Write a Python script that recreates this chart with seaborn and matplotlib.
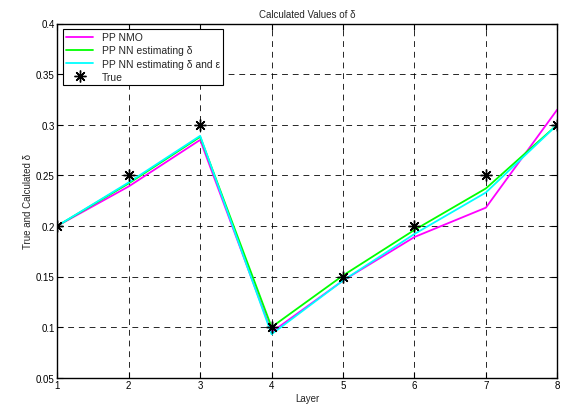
import matplotlib
matplotlib.use("Agg")
import matplotlib.pyplot as plt
import seaborn as sns
import pandas as pd

layers = [1, 2, 3, 4, 5, 6, 7, 8]
pp_nmo = [0.200, 0.239, 0.285, 0.095, 0.146, 0.189, 0.218, 0.315]
nn_delta = [0.200, 0.242, 0.288, 0.100, 0.151, 0.196, 0.237, 0.300]
nn_delta_eps = [0.200, 0.243, 0.289, 0.093, 0.146, 0.192, 0.233, 0.300]
true_vals = [0.20, 0.25, 0.30, 0.10, 0.15, 0.20, 0.25, 0.30]

labels = ["PP NMO", "PP NN estimating δ", "PP NN estimating δ and ε", "True"]
colors = ["#ff00ff", "#00ff00", "#00ffff"]

sns.set_theme(style="white")
plt.rcParams["font.family"] = ["Liberation Sans", "DejaVu Sans"]

fig = plt.figure(figsize=(5.65, 4.06), dpi=100)
ax = fig.add_axes([57.3 / 565, 1 - 378.7 / 406, (557.3 - 57.3) / 565, (378.7 - 24.5) / 406])

for vals, lab, col in zip([pp_nmo, nn_delta, nn_delta_eps], labels[:3], colors):
    df = pd.DataFrame({"Layer": layers, "val": vals})
    sns.lineplot(data=df, x="Layer", y="val", ax=ax, color=col, lw=1.3, label=lab)

df_true = pd.DataFrame({"Layer": layers, "val": true_vals})
ax.plot(df_true["Layer"], df_true["val"], linestyle="none", marker=(8, 2, 0),
        markersize=8.5, markeredgewidth=1.0, color="black", label=labels[3], zorder=5)

ax.set_xlim(1, 8)
ax.set_ylim(0.05, 0.4)
ax.set_xticks(layers)
ax.set_xticklabels([str(v) for v in layers])
yt = [0.05, 0.1, 0.15, 0.2, 0.25, 0.3, 0.35, 0.4]
ax.set_yticks(yt)
ax.set_yticklabels(["0.05", "0.1", "0.15", "0.2", "0.25", "0.3", "0.35", "0.4"])
ax.tick_params(direction="in", length=4, width=0.8, labelsize=7, colors="black",
               top=True, right=True, bottom=True, left=True, pad=2)
ax.grid(True, color="black", linestyle=(0, (6, 5)), linewidth=0.7, alpha=0.85)
for s in ax.spines.values():
    s.set_color("black")
    s.set_linewidth(1.0)

ax.set_xlabel("Layer", fontsize=7, labelpad=2)
ax.set_ylabel("True and Calculated δ", fontsize=7, labelpad=2)
ax.set_title("Calculated Values of δ", fontsize=7, pad=5)

leg = ax.legend(loc="upper left", fontsize=7.5, frameon=True, fancybox=False,
                edgecolor="black", framealpha=1, borderpad=0.35, handlelength=2.6,
                labelspacing=0.3, borderaxespad=0.5)
leg.get_frame().set_linewidth(0.8)

fig.savefig("out.png", dpi=100)
